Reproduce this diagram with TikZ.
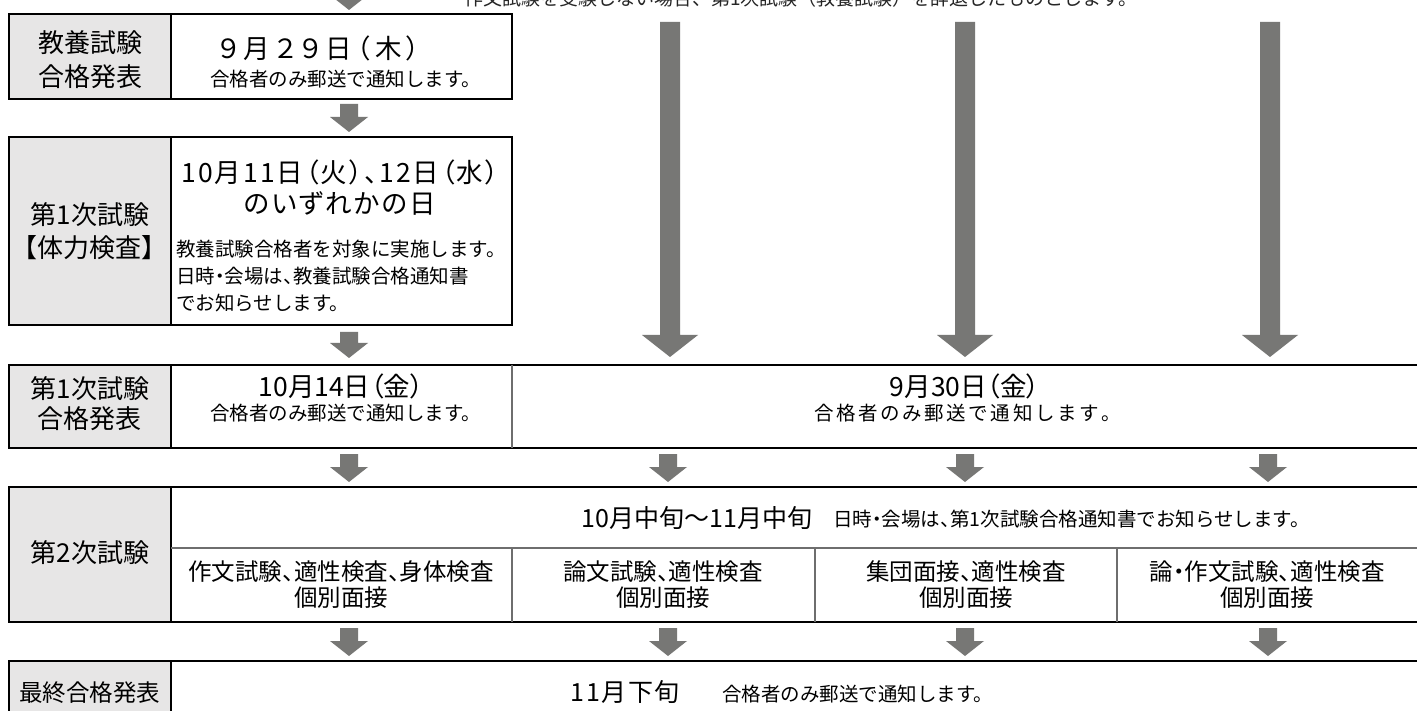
\documentclass[tikz,border=0pt]{standalone}
\usepackage{fontspec}
\setmainfont{Noto Sans CJK JP}
\newfontfamily\jpp[RawFeature=+palt]{Noto Sans CJK JP}
\newfontfamily\jph[RawFeature=+halt]{Noto Sans CJK JP}
\definecolor{arrowgray}{RGB}{119,119,117}
\definecolor{titlegray}{RGB}{231,230,230}
\definecolor{linegray}{RGB}{110,110,110}
\newcommand\fsTitle{\fontsize{26}{34}\selectfont}
\newcommand\fsDate{\jpp\fontsize{26.5}{30}\selectfont}
\newcommand\fsSmall{\jph\fontsize{19.5}{27}\selectfont}
\newcommand\fsCell{\jph\fontsize{23.5}{26}\selectfont}
\newcommand\spaced[2]{\def\lspk{#1}\lsploop#2\relax}
\def\lsploop#1{\ifx#1\relax\else#1\kern\lspk\expandafter\lsploop\fi}
\newcommand\smallarrow[3]{%
  \fill[arrowgray] (#1-9,#2) -- (#1+9,#2) -- (#1+9,#3-15) -- (#1+19,#3-15) -- (#1,#3)
    -- (#1-19,#3-15) -- (#1-9,#3-15) -- cycle;}
\newcommand\longarrow[3]{%
  \fill[arrowgray] (#1-10,#2) -- (#1+10,#2) -- (#1+10,#3-22) -- (#1+28,#3-22) -- (#1,#3)
    -- (#1-28,#3-22) -- (#1-10,#3-22) -- cycle;}
\begin{document}
\begin{tikzpicture}[x=1pt,y=-1pt,
  frame/.style={line width=2.7pt,black},
  thinline/.style={line width=1.6pt,linegray},
  ttl/.style={font=\fsTitle,align=center,inner sep=0pt},
  dt/.style={font=\fsDate,align=center,inner sep=0pt},
  sm/.style={font=\fsSmall,align=left,inner sep=0pt},
  cell/.style={font=\fsCell,align=center,inner sep=0pt}]
\path[use as bounding box] (0,0) rectangle (1417,711);
\clip (0,0) rectangle (1417,711);
\fill[white] (0,0) rectangle (1417,711);

% top note (cut off by the page edge, as in the reference)
\node[font=\fontsize{19}{22}\selectfont,text=black!85,inner sep=0pt] (note) at (801,-2)
  {作文試験を受験しない場合、第1次試験（教養試験）を辞退したものとします。};
\smallarrow{349}{-30}{10}

% row 1
\fill[titlegray] (9,14) rectangle (171,99);
\draw[frame] (9,14) rectangle (512,99);
\draw[frame] (171,14) -- (171,99);
\node[ttl] (t1) at (90,60) {教養試験\\合格発表};
\node[dt] (d1) at (322,48) {\spaced{5pt}{９月２９日（木）}};
\node[sm] (s1) at (341,79) {合格者のみ郵送で通知します。};

\smallarrow{349}{104}{132}

% row 2
\fill[titlegray] (9,137) rectangle (171,325);
\draw[frame] (9,137) rectangle (512,325);
\draw[frame] (171,137) -- (171,325);
\node[ttl,font=\fontsize{26}{33}\selectfont] (t2) at (90,231) {第1次試験\\【体力検査】};
\node[dt] (d2a) at (341,172) {\spaced{2pt}{10月11日（火）、12日（水）}};
\node[dt] (d2b) at (341,203) {\spaced{2pt}{のいずれかの日}};
\node[sm,anchor=west] (s2) at (176,276) {教養試験合格者を対象に実施します。\\日時・会場は、教養試験合格通知書\\でお知らせします。};

\smallarrow{349}{332}{358}
\longarrow{670}{22}{357}
\longarrow{965}{22}{357}
\longarrow{1270}{22}{357}

% row 3
\fill[titlegray] (9,365) rectangle (171,448);
\draw[frame] (1420,365) -- (9,365) -- (9,448) -- (1420,448);
\draw[frame] (171,365) -- (171,448);
\draw[thinline] (512,365) -- (512,448);
\node[ttl,font=\fontsize{26}{30}\selectfont] (t3) at (90,404) {第1次試験\\合格発表};
\node[dt] (d3) at (341,386) {10月14日（金）};
\node[sm] (s3) at (341,413) {合格者のみ郵送で通知します。};
\node[dt] (d4) at (965,386) {9月30日（金）};
\node[sm] (s4) at (964,413) {\spaced{2.6pt}{合格者のみ郵送で通知します。}};

\smallarrow{349}{454}{482}
\smallarrow{668}{454}{482}
\smallarrow{965}{454}{482}
\smallarrow{1268}{454}{482}

% row 4
\fill[titlegray] (9,487) rectangle (171,622);
\draw[frame] (1420,487) -- (9,487) -- (9,622) -- (1420,622);
\draw[frame] (171,487) -- (171,622);
\draw[thinline] (171,548) -- (1420,548);
\draw[thinline] (512,548) -- (512,622);
\draw[thinline] (815,548) -- (815,622);
\draw[thinline] (1117,548) -- (1117,622);
\node[ttl] (t4) at (90,553) {第2次試験};
\node[dt,font=\jpp\fontsize{25}{28}\selectfont] (d5) at (697,518) {10月中旬～11月中旬};
\node[sm,anchor=west] (s5) at (833,519) {日時・会場は、第1次試験合格通知書でお知らせします。};
\node[cell] (c1) at (341,585) {作文試験、適性検査、身体検査\\個別面接};
\node[cell] (c2) at (663,585) {論文試験、適性検査\\個別面接};
\node[cell] (c3) at (966,585) {集団面接、適性検査\\個別面接};
\node[cell] (c4) at (1267,585) {論・作文試験、適性検査\\個別面接};

\smallarrow{349}{628}{656}
\smallarrow{668}{628}{656}
\smallarrow{965}{628}{656}
\smallarrow{1268}{628}{656}

% row 5
\fill[titlegray] (9,661) rectangle (171,720);
\draw[frame] (1420,661) -- (9,661) -- (9,720);
\draw[frame] (171,661) -- (171,720);
\node[ttl,font=\fontsize{23.5}{28}\selectfont] (t5) at (90,693) {最終合格発表};
\node[dt,font=\jpp\fontsize{25}{28}\selectfont] (d6) at (626,692) {\spaced{1.5pt}{11月下旬}};
\node[sm,anchor=west] (s6) at (722,694) {合格者のみ郵送で通知します。};
\end{tikzpicture}
\end{document}
